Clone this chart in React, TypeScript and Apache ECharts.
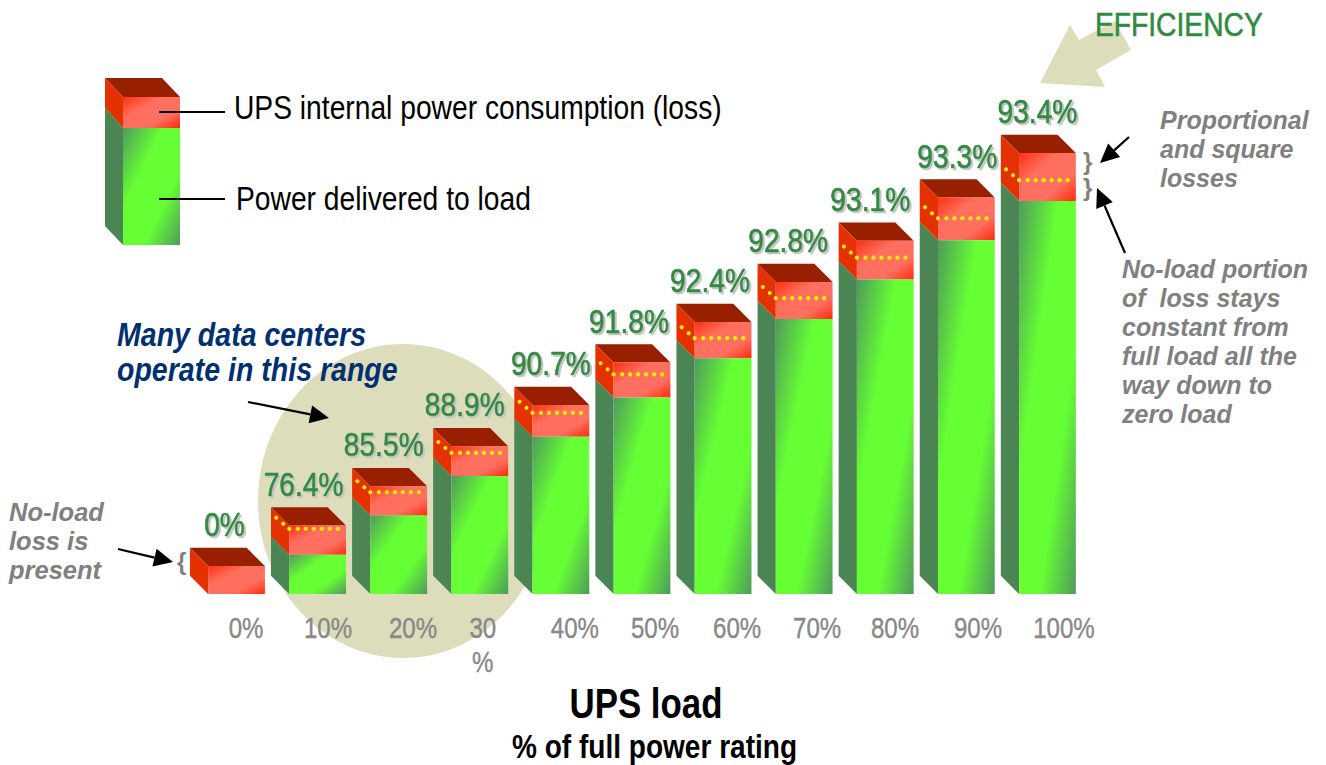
import React, { useEffect, useRef } from "react";
import * as echarts from "echarts";

const categories = ["0%", "10%", "20%", "30\n%", "40%", "50%", "60%", "70%", "80%", "90%", "100%"];
const delivered = [0, 10, 20, 30, 40, 50, 60, 70, 80, 90, 100];
const loss = [7.1, 7.4, 7.4, 7.6, 8.1, 8.9, 9.2, 9.4, 9.9, 10.9, 12.2];
const noLoadLoss = [0, 6.6, 5.9, 5.9, 6.1, 5.9, 5.1, 5.3, 5.6, 5.6, 5.3];
const efficiency = ["0%", "76.4%", "85.5%", "88.9%", "90.7%", "91.8%", "92.4%", "92.8%", "93.1%", "93.3%", "93.4%"];
const labelShift = [9.5, 10.4, 14.3, 3, 14, 13, 14, 13, 9.7, 11.6, 16.5];
const effShift = [-12, -14, -15, -15, -10, -13, -13, -16, -15, -9, -10];

const ARIAL = '"Liberation Sans", Arial, sans-serif';
const NARROW_SCALE = 0.83;
const GREEN_TEXT = "#2F8B3F";
const GREY_TEXT = "#808080";
const BEIGE = "#DDDDBB";

const topFill = "#981F00";
const redSide = "#E33100";
const greenSide = "#4A8553";
const redFront = () =>
  new echarts.graphic.LinearGradient(0, 0, 1, 1, [
    { offset: 0, color: "#FF3010" },
    { offset: 0.35, color: "#FF6F5F" },
    { offset: 0.7, color: "#FF6F5F" },
    { offset: 1, color: "#FF2A0C" },
  ]);
const greenFront = () =>
  new echarts.graphic.LinearGradient(0, 0, 1, 1, [
    { offset: 0, color: "#4F9A5C" },
    { offset: 0.35, color: "#66FF33" },
    { offset: 0.68, color: "#66FF33" },
    { offset: 1, color: "#4F9A5C" },
  ]);

const renderBar = (params: any, api: any) => {
  const i = api.value(0);
  const d = api.value(1);
  const l = api.value(2);
  const n = api.value(3);
  const base = api.coord([i, 0]);
  const split = api.coord([i, d]);
  const top = api.coord([i, d + l]);
  const band = api.size([1, 0])[0];
  const w = band * 0.7;
  const depth = band * 0.225;
  const x0 = base[0] - w / 2;
  const yB = base[1];
  const yS = split[1];
  const yT = top[1];
  const children: any[] = [];
  children.push({
    type: "polygon",
    shape: { points: [[x0 - depth, yT - depth], [x0 - depth + w, yT - depth], [x0 + w, yT], [x0, yT]] },
    style: { fill: topFill },
  });
  children.push({
    type: "polygon",
    shape: { points: [[x0 - depth, yT - depth], [x0, yT], [x0, yS], [x0 - depth, yS - depth]] },
    style: { fill: redSide },
  });
  children.push({
    type: "rect",
    shape: { x: x0, y: yT, width: w, height: yS - yT },
    style: { fill: redFront() },
  });
  if (d > 0) {
    children.push({
      type: "polygon",
      shape: { points: [[x0 - depth, yS - depth], [x0, yS], [x0, yB], [x0 - depth, yB - depth]] },
      style: { fill: greenSide },
    });
    children.push({
      type: "rect",
      shape: { x: x0, y: yS, width: w, height: yB - yS },
      style: { fill: greenFront() },
    });
  }
  if (n > 0) {
    const yN = api.coord([i, d + n])[1];
    for (let k = 0; k < 7; k++) {
      children.push({
        type: "circle",
        shape: { cx: x0 + (k === 0 ? 0 : 8 * k + 0.5), cy: yN, r: 2.1 },
        style: { fill: "#FFF200" },
      });
    }
    children.push({ type: "circle", shape: { cx: x0 - 6, cy: yN - 5, r: 2 }, style: { fill: "#FFF200" } });
    children.push({ type: "circle", shape: { cx: x0 - 13, cy: yN - 11, r: 2 }, style: { fill: "#FFF200" } });
  }
  children.push({
    type: "text",
    x: base[0] + effShift[i],
    y: yT - depth - 23,
    scaleX: NARROW_SCALE,
    style: {
      text: efficiency[i],
      align: "center",
      verticalAlign: "middle",
      fill: GREEN_TEXT,
      stroke: GREEN_TEXT,
      lineWidth: 0.7,
      fontSize: 34,
      fontFamily: ARIAL,
      textShadowColor: "#C4C4C4",
      textShadowOffsetX: 2,
      textShadowOffsetY: 2,
      textShadowBlur: 1,
    },
  });
  children.push({
    type: "text",
    x: base[0] + labelShift[i],
    y: yB + 17,
    scaleX: NARROW_SCALE,
    style: {
      text: categories[i],
      align: "center",
      verticalAlign: "top",
      fill: "#888888",
      stroke: "#888888",
      lineWidth: 0.4,
      fontSize: 29,
      lineHeight: 34,
      fontFamily: ARIAL,
    },
  });
  return { type: "group", children };
};

const txt = (text: string, x: number, y: number, extra: any = {}, scaleX = NARROW_SCALE) => ({
  type: "text",
  z: 10,
  x,
  y,
  scaleX,
  style: { text, fontFamily: ARIAL, fontSize: 34, fill: "#000", verticalAlign: "middle", ...extra },
});

const note = (lines: string[], x: number, y: number, size = 25, step = 29) =>
  lines.map((t, k) =>
    txt(
      t,
      x,
      y + k * step,
      {
        fontSize: size,
        fontWeight: "bold",
        fontStyle: "italic",
        fill: GREY_TEXT,
      },
      1
    )
  );

const arrow = (x1: number, y1: number, tx: number, ty: number, size = 19, half = 9, lw = 2.2) => {
  const len = Math.hypot(tx - x1, ty - y1);
  const ux = (tx - x1) / len;
  const uy = (ty - y1) / len;
  const bx = tx - ux * size;
  const by = ty - uy * size;
  return [
    { type: "line", z: 10, shape: { x1, y1, x2: bx, y2: by }, style: { stroke: "#000", lineWidth: lw } },
    {
      type: "polygon",
      z: 10,
      shape: { points: [[tx, ty], [bx - uy * half, by + ux * half], [bx + uy * half, by - ux * half]] },
      style: { fill: "#000" },
    },
  ];
};

const legendBar = () => [
  { type: "polygon", z: 5, shape: { points: [[105, 78], [162, 78], [180, 97], [123, 97]] }, style: { fill: topFill } },
  { type: "polygon", z: 5, shape: { points: [[105, 78], [123, 97], [123, 128], [105, 108]] }, style: { fill: redSide } },
  { type: "rect", z: 5, shape: { x: 123, y: 97, width: 57, height: 31 }, style: { fill: redFront() } },
  { type: "polygon", z: 5, shape: { points: [[105, 108], [123, 128], [123, 245], [105, 226]] }, style: { fill: greenSide } },
  { type: "rect", z: 5, shape: { x: 123, y: 128, width: 57, height: 117 }, style: { fill: greenFront() } },
  { type: "line", z: 10, shape: { x1: 159, y1: 112, x2: 225, y2: 112 }, style: { stroke: "#000", lineWidth: 2 } },
  { type: "line", z: 10, shape: { x1: 159, y1: 199, x2: 225, y2: 199 }, style: { stroke: "#000", lineWidth: 2 } },
];

export default function App() {
  const ref = useRef<HTMLDivElement>(null);
  useEffect(() => {
    if (!ref.current) return;
    const chart = echarts.init(ref.current, undefined, { renderer: "svg" });
    chart.setOption({
      animation: false,
      backgroundColor: "#fff",
      grid: { left: 196, width: 892, top: 4.5, height: 589.5 },
      xAxis: {
        type: "category",
        data: categories,
        axisLine: { show: false },
        axisTick: { show: false },
        axisLabel: { show: false },
      },
      yAxis: { type: "value", min: 0, max: 150, show: false },
      series: [
        {
          type: "custom",
          z: 2,
          clip: false,
          renderItem: renderBar,
          encode: { x: 0, y: 1 },
          data: categories.map((_, i) => [i, delivered[i], loss[i], noLoadLoss[i]]),
        },
      ],
      graphic: {
        elements: [
          { type: "ellipse", z: -1, shape: { cx: 403, cy: 501, rx: 145, ry: 157 }, style: { fill: BEIGE } },
          {
            type: "polygon",
            z: 1,
            shape: { points: [[1040, 83], [1105, 87], [1096, 70], [1131, 50], [1115, 21], [1079, 40], [1070, 25]] },
            style: { fill: BEIGE },
          },
          ...legendBar(),
          txt("UPS internal power consumption (loss)", 234, 108),
          txt("Power delivered to load", 236, 199),
          txt("EFFICIENCY", 1095, 25, { fill: GREEN_TEXT, stroke: GREEN_TEXT, lineWidth: 0.6 }),
          txt("Many data centers", 117, 335, { fontSize: 33, fontWeight: "bold", fontStyle: "italic", fill: "#003070" }, 0.865),
          txt("operate in this range", 117, 370, { fontSize: 33, fontWeight: "bold", fontStyle: "italic", fill: "#003070" }, 0.865),
          txt("UPS load", 646, 703, { fontSize: 42, fontWeight: "bold", align: "center" }),
          txt("% of full power rating", 654.5, 746, { fontSize: 33, fontWeight: "bold", align: "center" }, 0.85),
          ...note(["Proportional", "and square", "losses"], 1160, 120),
          ...note(["No-load portion", "of  loss stays", "constant from", "full load all the", "way down to", "zero load"], 1122, 269),
          ...note(["No-load", "loss is", "present"], 9, 512, 25.5),
          txt("}", 1083, 161, { fontSize: 24, fontWeight: "bold", fill: GREY_TEXT }, 1),
          txt("}", 1083, 187, { fontSize: 24, fontWeight: "bold", fill: GREY_TEXT }, 1),
          txt("{", 177, 561, { fontSize: 24, fontWeight: "bold", fill: GREY_TEXT }, 1),
          ...arrow(248, 402, 329, 418),
          ...arrow(1129, 137, 1100, 163),
          ...arrow(1125, 253, 1097, 188),
          ...arrow(118, 549, 173, 562),
        ],
      },
    });
    return () => chart.dispose();
  }, []);
  return <div ref={ref} style={{ position: "absolute", left: 0, top: 0, width: 1326, height: 765 }} />;
}
